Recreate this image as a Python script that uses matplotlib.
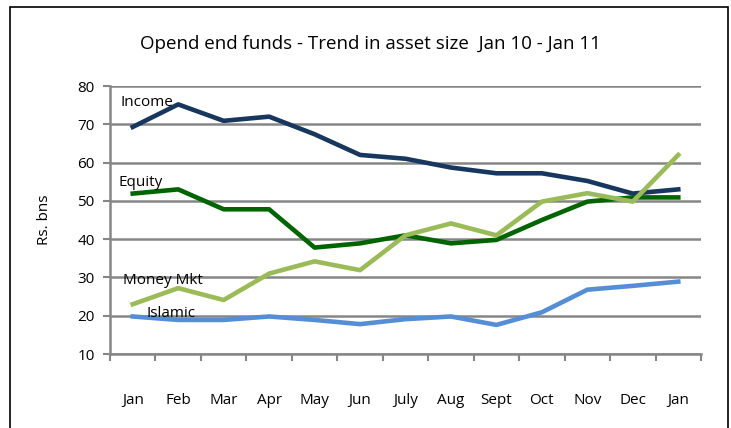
import matplotlib
matplotlib.use("Agg")
import matplotlib.pyplot as plt
from matplotlib.patches import Rectangle

plt.rcParams['font.family'] = ['Liberation Sans Narrow', 'Open Sans', 'DejaVu Sans']

months = ["Jan", "Feb", "Mar", "Apr", "May", "Jun", "July", "Aug", "Sept", "Oct", "Nov", "Dec", "Jan"]
income = [69.3, 75.2, 70.9, 72.0, 67.4, 62.0, 61.0, 58.7, 57.2, 57.2, 55.2, 51.9, 53.0]
equity = [51.9, 53.0, 47.8, 47.8, 37.8, 38.9, 41.0, 38.9, 39.8, 45.0, 49.8, 50.9, 50.9]
money_mkt = [23.0, 27.2, 24.1, 31.0, 34.2, 31.9, 41.0, 44.1, 41.0, 49.8, 52.0, 49.8, 62.0]
islamic = [19.8, 18.9, 18.9, 19.8, 18.9, 17.8, 19.1, 19.8, 17.6, 20.9, 26.8, 27.8, 28.9]
yticks = [10, 20, 30, 40, 50, 60, 70, 80]

fig = plt.figure(figsize=(7.31, 4.28), dpi=100)
fig.patches.append(Rectangle((10/731, -0.1), 718/731, 1.1 - 7/428, transform=fig.transFigure,
                             fill=False, edgecolor='black', linewidth=1.2))
ax = fig.add_axes([110/731, 1 - 354/428, 591/731, 268/428])

x = [i + 0.5 for i in range(len(months))]
ax.plot(x, income, color='#17375E', lw=3.3, solid_joinstyle='round', zorder=3)
ax.plot(x, equity, color='#006400', lw=3.3, solid_joinstyle='round', zorder=3)
ax.plot(x, money_mkt, color='#9BBB59', lw=3.3, solid_joinstyle='round', zorder=3)
ax.plot(x, islamic, color='#558ED5', lw=3.3, solid_joinstyle='round', zorder=3)

ax.set_xlim(0, len(months))
ax.set_ylim(10, 80)
ax.set_yticks(yticks)
ax.set_yticklabels([str(v) for v in yticks], fontsize=11)
ax.yaxis.grid(True, color='#868686', lw=1.8, zorder=0)
ax.set_xticks(range(len(months) + 1))
ax.set_xticklabels([])
ax.set_xticks(x, minor=True)
ax.set_xticklabels(months, minor=True, fontsize=11)
ax.tick_params(axis='x', which='minor', length=0, pad=28)
ax.tick_params(axis='x', which='major', length=5, color='#868686', width=1.5)
ax.tick_params(axis='y', length=5, color='#868686', width=1.5, pad=6)
for s in ['top', 'right']:
    ax.spines[s].set_visible(False)
ax.spines['left'].set_color('#868686')
ax.spines['left'].set_linewidth(1.8)
ax.spines['bottom'].set_color('#868686')
ax.spines['bottom'].set_linewidth(1.8)
ax.set_axisbelow(True)

ax.set_ylabel("Rs. bns", fontsize=11, labelpad=18)

ax.text(0.22, 75.6, "Income", fontsize=11, va='center', ha='left', zorder=4)
ax.text(0.18, 54.7, "Equity", fontsize=11, va='center', ha='left', zorder=4)
ax.text(0.29, 29.1, "Money Mkt", fontsize=11, va='center', ha='left', zorder=4)
ax.text(0.81, 20.7, "Islamic", fontsize=11, va='center', ha='left', zorder=4)

fig.text(370/731, 1 - 44/428, "Opend end funds - Trend in asset size  Jan 10 - Jan 11",
         fontsize=13.5, ha='center', va='center')

fig.savefig("out.png", dpi=100)
